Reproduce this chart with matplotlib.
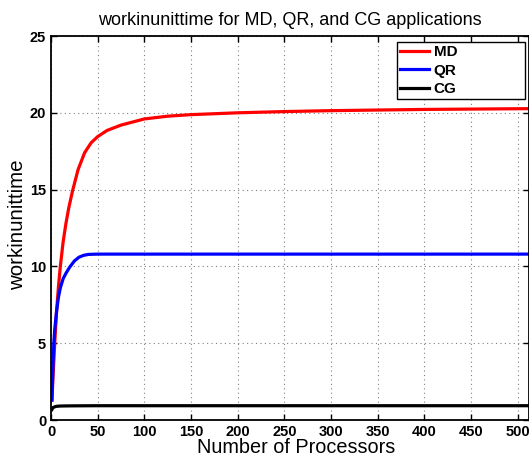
import matplotlib
matplotlib.use("Agg")
import matplotlib.pyplot as plt

plt.rcParams['font.family'] = ['Liberation Sans', 'DejaVu Sans']

# values
md_x = [1, 2, 4, 6, 8, 10, 13, 16, 19, 23, 29, 36, 43, 50, 60, 75, 100, 125, 150, 200, 250, 300, 400, 512]
md_y = [1.3, 2.6, 5.0, 7.1, 8.7, 10.0, 11.6, 12.8, 13.8, 14.9, 16.3, 17.4, 18.05, 18.45, 18.85, 19.2,
        19.6, 19.78, 19.88, 20.0, 20.08, 20.14, 20.22, 20.27]

qr_x = [1, 2, 3, 4, 6, 8, 10, 13, 16, 20, 25, 30, 35, 40, 50, 100, 512]
qr_y = [1.3, 3.3, 5.0, 5.9, 7.1, 8.0, 8.6, 9.2, 9.55, 9.95, 10.35, 10.6, 10.72, 10.78, 10.8, 10.8, 10.8]

cg_x = [1, 2, 4, 6, 10, 20, 50, 512]
cg_y = [0.68, 0.8, 0.86, 0.89, 0.91, 0.92, 0.93, 0.93]

x_ticks = [0, 50, 100, 150, 200, 250, 300, 350, 400, 450, 500]
y_ticks = [0, 5, 10, 15, 20, 25]

fig = plt.figure(figsize=(5.29, 4.58), dpi=100)
ax = fig.add_axes([51 / 529, 1 - 420 / 458, 478 / 529, 384 / 458])

ax.plot(md_x, md_y, color='#ff0000', lw=2.3, label='MD')
ax.plot(qr_x, qr_y, color='#0000ff', lw=2.3, label='QR')
ax.plot(cg_x, cg_y, color='black', lw=2.3, label='CG')

ax.set_xlim(0, 512)
ax.set_ylim(0, 25)
ax.set_xticks(x_ticks)
ax.set_yticks(y_ticks)
ax.grid(True, linestyle=(0, (1, 3)), color='#808080', linewidth=0.8)
ax.tick_params(direction='in', top=True, right=True, length=4, width=1, pad=3.5)
for lbl in ax.get_xticklabels() + ax.get_yticklabels():
    lbl.set_fontweight('bold')
    lbl.set_fontsize(10.5)
for sp in ax.spines.values():
    sp.set_linewidth(1.3)

ax.set_title('workinunittime for MD, QR, and CG applications', fontsize=13, pad=8)
# labels start where the reference text starts (its text runs a bit past centre)
ax.set_xlabel('Number of Processors', fontsize=14.3, ha='left', va='baseline')
ax.xaxis.set_label_coords((197 - 51) / 478, (420 - 453) / 384)
ax.set_ylabel('workinunittime', fontsize=14.8, labelpad=2,
              y=(420 - 290) / 384, ha='left')

box_l = (397 - 51) / 478
box_r = (525 - 51) / 478
box_t = (420 - 42) / 384
leg = ax.legend(loc='upper right', bbox_to_anchor=(box_l, 0, box_r - box_l, box_t), mode='expand',
                prop={'weight': 'bold', 'size': 11}, fancybox=False, framealpha=1,
                edgecolor='black', borderaxespad=0, handlelength=1.9, handletextpad=0.3,
                labelspacing=0.3, borderpad=0.2)
leg.get_frame().set_linewidth(1.0)

fig.savefig('out.png', dpi=100)
